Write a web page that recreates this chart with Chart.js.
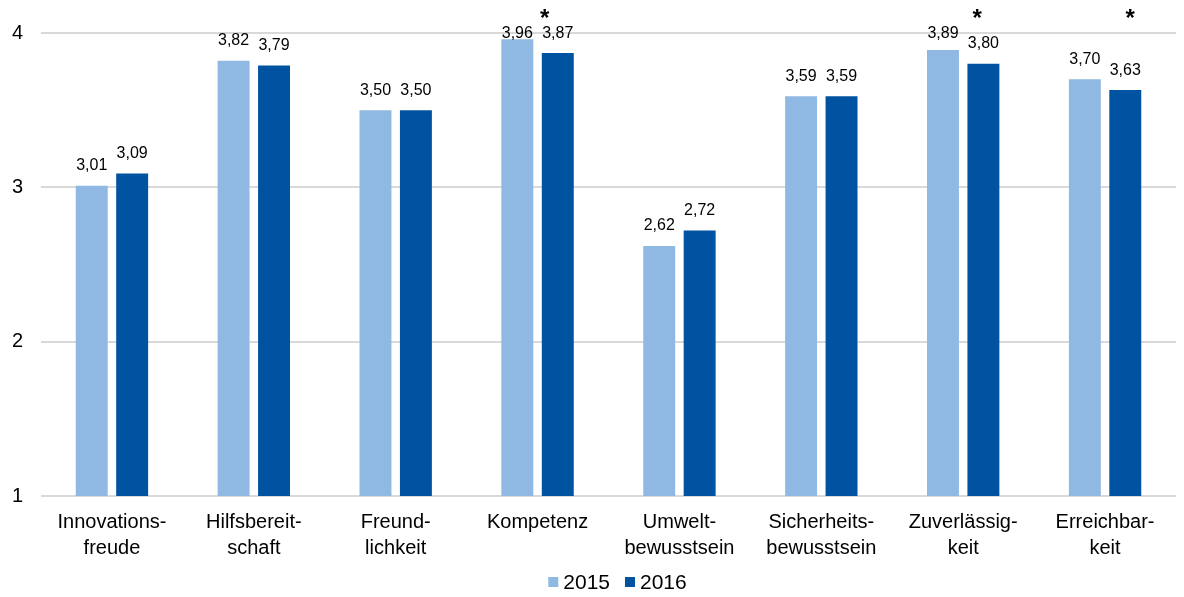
<!DOCTYPE html>
<html>
<head>
<meta charset="utf-8">
<script src="https://cdn.jsdelivr.net/npm/chart.js@4/dist/chart.umd.min.js"></script>
<style>
  html, body { margin: 0; padding: 0; background: #fff; }
  #wrap { width: 1184px; height: 597px; position: relative; }
</style>
</head>
<body>
<div id="wrap"><canvas id="myChart"></canvas></div>
<script>
"use strict";
var categories = [
  ["Innovations-", "freude"],
  ["Hilfsbereit-", "schaft"],
  ["Freund-", "lichkeit"],
  ["Kompetenz"],
  ["Umwelt-", "bewusstsein"],
  ["Sicherheits-", "bewusstsein"],
  ["Zuverlässig-", "keit"],
  ["Erreichbar-", "keit"],
];
var values2015 = [3.01, 3.82, 3.5, 3.96, 2.62, 3.59, 3.89, 3.7];
var values2016 = [3.09, 3.79, 3.5, 3.87, 2.72, 3.59, 3.8, 3.63];
var significant = [false, false, false, true, false, false, true, true];
var yTicks = [1, 2, 3, 4];

var font = "'Liberation Sans', Arial, sans-serif";
// the asterisks are not centred exactly in the source
var starShift = [0, 0, 0, 7, 0, 0, 14, 25];

// value labels, asterisks and legend drawn by hand
var extras = {
  id: "extras",
  afterDatasetsDraw: function (chart) {
    var c = chart.ctx;
    c.save();
    c.font = "16px " + font;
    c.fillStyle = "#000";
    c.textAlign = "center";
    c.textBaseline = "middle";
    chart.data.datasets.forEach(function (ds, i) {
      chart.getDatasetMeta(i).data.forEach(function (bar, j) {
        // labels near the top are kept from running off the plot
        var y = Math.max(bar.y - 20, chart.chartArea.top + 1);
        c.fillText(ds.data[j].toFixed(2).replace(".", ","), bar.x, y);
      });
    });
    var xs = chart.scales.x;
    c.font = "bold 24px " + font;
    significant.forEach(function (s, j) {
      if (s) c.fillText("*", xs.getPixelForValue(j) + starShift[j], 19);
    });

    // legend
    c.font = "21px " + font;
    c.textAlign = "left";
    var box = 10, gap = 5, space = 15, y = 582;
    var items = chart.data.datasets.map(function (ds) {
      return { ds: ds, w: box + gap + c.measureText(ds.label).width };
    });
    var total = items.reduce(function (a, it) { return a + it.w; }, 0) + space * (items.length - 1);
    var x = (chart.chartArea.left + chart.chartArea.right) / 2 + 9 - total / 2;
    items.forEach(function (it) {
      c.fillStyle = it.ds.backgroundColor;
      c.fillRect(x, y - box / 2, box, box);
      c.fillStyle = "#000";
      c.fillText(it.ds.label, x + box + gap, y + 1);
      x += it.w + space;
    });
    c.restore();
  },
};

var ctx = document.getElementById("myChart");
var myBarChart = new Chart(ctx, {
  type: "bar",
  data: {
    labels: categories,
    datasets: [
      { label: "2015", data: values2015, backgroundColor: "#8fb9e3" },
      { label: "2016", data: values2016, backgroundColor: "#0053a0" },
    ],
  },
  options: {
    responsive: true,
    maintainAspectRatio: false,
    animation: false,
    categoryPercentage: 0.57,
    barPercentage: 0.79,
    layout: { padding: { top: 33, right: 8, bottom: 31, left: 0 } },
    plugins: {
      tooltip: { enabled: false },
      legend: { display: false },
    },
    scales: {
      x: {
        afterFit: function (scale) { scale.height = 70; },
        grid: { display: false },
        border: { display: false },
        ticks: {
          font: { family: font, size: 20, lineHeight: 1.3 },
          color: "#000",
          padding: 5,
          maxRotation: 0,
        },
      },
      y: {
        min: 1,
        max: 4,
        afterFit: function (scale) { scale.width = 41; },
        afterBuildTicks: function (scale) {
          scale.ticks = yTicks.map(function (v) { return { value: v }; });
        },
        grid: { color: "#d9d9d9", lineWidth: 2, drawTicks: false },
        border: { display: false },
        ticks: { font: { family: font, size: 20 }, color: "#000", padding: 18 },
      },
    },
  },
  plugins: [extras],
});
</script>
</body>
</html>
